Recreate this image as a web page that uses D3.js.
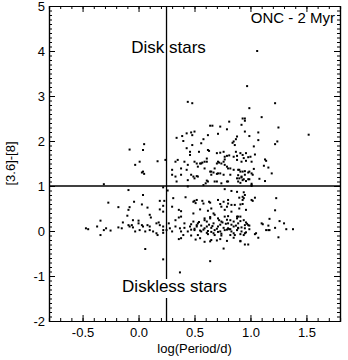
<!DOCTYPE html>
<html>
<head>
<meta charset="utf-8">
<script src="https://cdn.jsdelivr.net/npm/d3@7"></script>
<style>
  body { margin: 0; background: #fff; }
  text { font-family: "Liberation Sans", Arial, Helvetica, sans-serif; }
</style>
</head>
<body>
<div id="chart"></div>
<script>
// ===== DATA (log period in days, [3.6]-[8] colour) =====
const diskStars = [
  [0.44,2.87],[0.48,2.84],[0.05,1.93],[-0.08,1.81],[0.04,1.80],[0.01,1.54],[-0.03,1.47],
  [0.17,1.55],[0.04,1.32],[0.05,1.27],[0.03,1.30],[-0.31,1.04],[0.24,1.58],
  [1.06,4.00],[0.97,3.22],[0.99,2.73],[1.22,2.84],
  [0.64,2.34],[0.66,2.34],[0.73,2.32],[0.81,2.43],[0.79,2.26],[0.39,2.11],[0.43,2.17],
  [0.47,2.19],[0.34,2.07],[0.50,2.21],[0.87,2.04],[0.85,1.99],[0.56,1.95],[0.62,2.13],
  [0.71,2.16],[0.40,2.00],[0.86,1.91],[0.43,1.84],[0.62,1.80],[0.46,1.76],[0.87,1.76],
  [0.35,1.58],[0.33,1.54],[0.41,1.54],[0.44,1.47],[0.52,1.50],[0.56,1.50],[0.61,1.54],
  [0.70,1.73],[0.71,1.54],[0.77,1.65],[0.81,1.68],[0.85,1.65],[0.88,1.58],[0.74,1.50],
  [0.77,1.47],[0.30,1.36],[0.38,1.39],[0.43,1.36],[0.53,1.43],[0.59,1.39],[0.65,1.32],
  [0.68,1.39],[0.80,1.39],[0.85,1.36],[0.89,1.36],[0.30,1.25],[0.33,1.21],[0.38,1.25],
  [0.47,1.25],[0.53,1.21],[0.65,1.25],[0.71,1.28],[0.76,1.25],[0.82,1.25],[0.88,1.17],
  [0.34,1.10],[0.44,1.13],[0.50,1.17],[0.62,1.10],[0.70,1.10],[0.80,1.10],[0.89,1.10],
  [0.93,2.50],[0.95,2.50],[0.95,2.45],[1.10,2.53],[0.92,2.36],[1.25,2.30],[0.95,2.21],
  [0.99,2.11],[1.07,2.19],[1.52,2.14],[1.07,2.02],[1.24,1.99],[1.22,1.93],[1.03,1.88],
  [1.04,1.70],[0.93,1.69],[0.94,1.62],[0.98,1.64],[1.00,1.65],[0.92,1.54],[0.96,1.56],
  [1.01,1.54],[1.13,1.59],[1.14,1.56],[1.16,1.41],[1.12,1.45],[1.19,1.28],[1.03,1.38],
  [0.90,1.36],[0.93,1.32],[0.99,1.32],[1.01,1.28],[1.02,1.25],[0.92,1.21],[0.95,1.25],
  [0.90,1.17],[0.93,1.13],[0.96,1.11],[0.98,1.15],[1.08,1.16],[1.13,1.11],[1.01,1.05],
  [0.48,2.13],[0.88,2.10],[0.84,1.96],[0.58,2.04],[0.48,1.91],[0.46,1.69],[0.54,1.76],
  [0.63,1.78],[0.73,1.74],[0.76,1.76],[0.79,1.67],[0.77,1.59],[0.88,1.67],[0.91,1.73],
  [0.96,1.73],[0.50,1.54],[0.55,1.50],[0.59,1.54],[0.61,1.61],[0.57,1.52],[0.70,1.50],
  [0.72,1.52],[0.76,1.54],[0.79,1.43],[0.82,1.39],[0.91,1.32],[0.95,1.33],[0.98,1.30],
  [0.64,1.32],[0.67,1.30],[0.70,1.27],[0.73,1.28],[0.89,1.24],[0.92,1.19],[0.94,1.15],
  [0.49,1.21],[0.52,1.22],[0.61,1.12],[0.68,1.10],[0.74,1.06],[0.79,1.10],[0.58,1.02],
  [0.60,1.06],[0.91,1.07],[0.99,1.15],[1.01,1.02]
];

const disklessStars = [
  [-0.09,0.91],[0.04,0.80],[-0.27,0.63],[-0.18,0.53],[-0.08,0.53],[-0.04,0.65],[0.03,0.59],
  [0.08,0.52],[0.19,0.67],[0.22,0.97],[0.26,0.90],[0.19,0.48],[-0.09,0.47],[-0.10,0.34],
  [0.10,0.36],[0.11,0.30],[0.23,0.67],[0.22,0.43],[0.22,0.56],[-0.34,0.23],[-0.05,0.24],
  [0.00,0.23],[0.00,0.17],[-0.14,0.19],[-0.09,0.13],[-0.06,0.13],[0.03,0.13],[0.04,0.10],
  [0.08,0.13],[0.10,0.10],[0.16,0.17],[0.18,0.19],[0.19,0.13],[0.22,0.10],[-0.47,0.06],
  [-0.45,0.04],[-0.37,0.10],[-0.31,0.02],[-0.29,0.06],[-0.25,0.01],[-0.34,-0.09],
  [-0.18,0.08],[-0.15,0.06],[-0.08,0.10],[-0.05,0.08],[-0.03,-0.01],[0.01,0.02],[0.06,-0.01],
  [0.10,0.02],[0.13,-0.01],[0.16,-0.05],[0.17,-0.09],[0.22,0.02],[0.22,-0.04],[0.06,-0.40],
  [0.22,-0.63],[0.64,-0.67],[0.37,-0.92],
  [0.44,0.99],[0.77,0.93],[0.83,0.89],[0.88,0.87],[0.31,0.73],[0.42,0.75],[0.50,0.67],
  [0.52,0.69],[0.57,0.67],[0.63,0.65],[0.71,0.69],[0.80,0.69],[0.30,0.54],[0.36,0.47],
  [0.38,0.44],[0.49,0.39],[0.65,0.50],[0.79,0.54],[0.86,0.58],[0.83,0.43],[0.77,0.47],
  [0.36,0.30],[0.38,0.32],[0.33,0.24],[0.59,0.28],[0.64,0.28],[0.71,0.28],[0.77,0.32],
  [0.82,0.24],[0.88,0.32],[0.27,0.17],[0.41,0.17],[0.47,0.15],[0.53,0.17],[0.61,0.21],
  [0.67,0.17],[0.74,0.21],[0.80,0.17],[0.85,0.21],[0.28,0.06],[0.33,0.10],[0.37,0.06],
  [0.41,0.07],[0.46,0.10],[0.52,0.10],[0.59,0.06],[0.61,0.10],[0.65,0.07],[0.71,0.10],
  [0.76,0.07],[0.80,0.06],[0.85,0.10],[0.89,0.06],[0.25,0.02],[0.30,-0.01],[0.38,-0.01],
  [0.44,-0.01],[0.50,0.02],[0.56,-0.01],[0.62,0.00],[0.68,0.02],[0.73,-0.01],[0.77,0.02],
  [0.83,-0.01],[0.88,0.02],[0.40,-0.09],[0.47,-0.10],[0.53,-0.09],[0.62,-0.07],[0.68,-0.09],
  [0.74,-0.10],[0.82,-0.09],[0.86,-0.09],[0.36,-0.18],[0.38,-0.16],[0.55,-0.16],[0.65,-0.20],
  [0.73,-0.18],[0.79,-0.22],[0.76,-0.39],
  [1.01,1.00],[0.94,0.86],[0.90,0.74],[0.93,0.76],[0.93,0.69],[1.04,0.74],[1.02,0.67],
  [1.23,0.73],[0.91,0.59],[0.96,0.47],[1.22,0.46],[0.89,0.32],[0.91,0.32],[1.17,0.27],
  [1.26,0.22],[0.91,0.22],[0.96,0.19],[1.10,0.17],[1.30,0.17],[0.98,0.13],[0.99,0.12],
  [0.89,0.07],[0.92,0.08],[0.95,0.06],[0.99,0.04],[1.16,0.12],[1.22,0.07],[1.14,0.02],
  [1.16,0.02],[1.32,0.04],[1.38,0.04],[0.96,-0.03],[0.91,-0.07],[0.94,-0.09],[1.04,-0.07],
  [1.07,-0.15],[1.25,-0.14],[0.91,-0.22],[0.98,-0.30],
  [0.49,0.65],[0.51,0.62],[0.58,0.61],[0.64,0.63],[0.73,0.60],[0.76,0.65],[0.80,0.61],
  [0.83,0.58],[0.94,0.73],[0.93,0.60],[0.95,0.80],[1.01,0.69],[0.55,0.48],[0.62,0.45],
  [0.67,0.39],[0.74,0.54],[0.90,0.50],[0.80,0.33],[0.68,0.36],[0.64,0.31],
  [0.49,0.21],[0.52,0.13],[0.54,0.20],[0.56,0.12],[0.59,0.24],[0.63,0.14],[0.66,0.11],
  [0.70,0.05],[0.72,0.24],[0.73,0.14],[0.75,0.19],[0.78,0.16],[0.79,0.25],[0.81,0.04],
  [0.83,0.14],[0.87,0.12],[0.89,0.17],[0.94,0.24],[0.95,0.13],[0.97,0.16],[0.88,0.28],
  [0.92,-0.01],[0.95,-0.05],[0.55,0.01],[0.58,0.03],[0.61,-0.04],[0.65,-0.02],[0.67,-0.05],
  [0.71,-0.02],[0.74,-0.06],[0.79,0.03],[0.82,0.04],[0.85,-0.05],[0.47,0.03],[0.50,0.05],
  [1.11,0.15],[1.17,0.02],[1.05,-0.05],[0.59,-0.24],[0.64,-0.23],[0.70,-0.21],[0.51,-0.19],
  [0.91,-0.23],[0.95,-0.30],[0.85,-0.15]
];

const xMajorTicks = [-0.5, 0.0, 0.5, 1.0, 1.5];
const yMajorTicks = [-2, -1, 0, 1, 2, 3, 4, 5];
const periodCut = 0.25;   // vertical divider
const colourCut = 1;      // horizontal divider

// ===== LAYOUT =====
const width = 348, height = 360;
const margin = { top: 6, right: 8, bottom: 39, left: 49 };
const innerW = width - margin.left - margin.right;
const innerH = height - margin.top - margin.bottom;

const svg = d3.select("#chart").append("svg")
  .attr("width", width)
  .attr("height", height);

const innerChart = svg.append("g")
  .attr("transform", `translate(${margin.left},${margin.top})`);

const xScale = d3.scaleLinear().domain([-0.8, 1.8]).range([0, innerW]);
const yScale = d3.scaleLinear().domain([-2, 5]).range([innerH, 0]);

const xMinor = d3.range(-0.8, 1.8001, 0.1).map(d => +d.toFixed(1));
const yMinor = d3.range(-2, 5.001, 0.1).map(d => +d.toFixed(1));

// ===== AXES (ticks pointing inward, mirrored on top and right) =====
function styleAxis(g) {
  g.select(".domain").attr("stroke", "#000").attr("stroke-width", 1.2);
  g.selectAll(".tick line").attr("stroke", "#000").attr("stroke-width", 1);
  g.selectAll(".tick text")
    .attr("fill", "#000")
    .style("font-size", "13px");
}

// minor ticks
innerChart.append("g")
  .attr("transform", `translate(0,${innerH})`)
  .call(d3.axisBottom(xScale).tickValues(xMinor).tickSize(-3).tickFormat(""))
  .call(styleAxis);
innerChart.append("g")
  .call(d3.axisTop(xScale).tickValues(xMinor).tickSize(-3).tickFormat(""))
  .call(styleAxis);
innerChart.append("g")
  .call(d3.axisLeft(yScale).tickValues(yMinor).tickSize(-3).tickFormat(""))
  .call(styleAxis);
innerChart.append("g")
  .attr("transform", `translate(${innerW},0)`)
  .call(d3.axisRight(yScale).tickValues(yMinor).tickSize(-3).tickFormat(""))
  .call(styleAxis);

// major ticks
innerChart.append("g")
  .attr("transform", `translate(0,${innerH})`)
  .call(d3.axisBottom(xScale).tickValues(xMajorTicks).tickSizeInner(-6).tickSizeOuter(0)
    .tickPadding(7).tickFormat(d => d.toFixed(1)))
  .call(styleAxis);
innerChart.append("g")
  .call(d3.axisTop(xScale).tickValues(xMajorTicks).tickSizeInner(-6).tickSizeOuter(0).tickFormat(""))
  .call(styleAxis);
innerChart.append("g")
  .call(d3.axisLeft(yScale).tickValues(yMajorTicks).tickSizeInner(-6).tickSizeOuter(0)
    .tickPadding(4).tickFormat(d => String(d)))
  .call(styleAxis);
innerChart.append("g")
  .attr("transform", `translate(${innerW},0)`)
  .call(d3.axisRight(yScale).tickValues(yMajorTicks).tickSizeInner(-6).tickSizeOuter(0).tickFormat(""))
  .call(styleAxis);

// ===== DIVIDER LINES =====
innerChart.append("line")
  .attr("x1", 0).attr("x2", innerW)
  .attr("y1", yScale(colourCut)).attr("y2", yScale(colourCut))
  .attr("stroke", "#000").attr("stroke-width", 1.3);

innerChart.append("line")
  .attr("x1", xScale(periodCut)).attr("x2", xScale(periodCut))
  .attr("y1", 0).attr("y2", innerH)
  .attr("stroke", "#000").attr("stroke-width", 1.3);

// ===== POINTS =====
const allStars = diskStars.concat(disklessStars);
innerChart.selectAll("rect.star")
  .data(allStars)
  .join("rect")
  .attr("class", "star")
  .attr("x", d => xScale(d[0]) - 1)
  .attr("y", d => yScale(d[1]) - 1)
  .attr("width", 2)
  .attr("height", 2)
  .attr("fill", "#000");

// ===== LABELS =====
const labels = innerChart.append("g").attr("class", "labels");

labels.append("text")
  .attr("x", innerW - 5)
  .attr("y", 17)
  .attr("text-anchor", "end")
  .style("font-size", "15px")
  .text("ONC - 2 Myr");

labels.append("text")
  .attr("x", xScale(periodCut) + 2)
  .attr("y", 47)
  .attr("text-anchor", "middle")
  .style("font-size", "17px")
  .text("Disk stars");

// white box behind the lower label so the divider is broken there
const diskless = labels.append("text")
  .attr("x", xScale(periodCut) + 8)
  .attr("y", 286)
  .attr("text-anchor", "middle")
  .style("font-size", "17px")
  .text("Diskless stars");
const bb = diskless.node().getBBox();
labels.insert("rect", "text:last-child")
  .attr("x", bb.x).attr("y", bb.y + 2)
  .attr("width", bb.width).attr("height", bb.height)
  .attr("fill", "#fff");

// axis titles
svg.append("text")
  .attr("x", margin.left + innerW / 2)
  .attr("y", 353)
  .attr("text-anchor", "middle")
  .style("font-size", "13px")
  .text("log(Period/d)");

svg.append("text")
  .attr("transform", `translate(15,${margin.top + innerH / 2}) rotate(-90)`)
  .attr("text-anchor", "middle")
  .style("font-size", "13px")
  .text("[3.6]-[8]");
</script>
</body>
</html>
